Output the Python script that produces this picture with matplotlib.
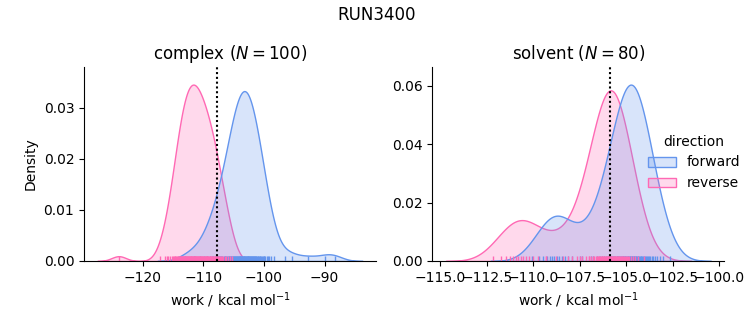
import matplotlib
matplotlib.use("Agg")
import matplotlib.pyplot as plt
import pandas as pd
import seaborn as sns

# work values in kcal/mol, one list per phase and direction
complex_forward = [
    -113.01, -111.53, -110.54, -109.85, -109.40, -108.95, -108.65, -108.37, -108.07, -107.84,
    -107.65, -107.46, -107.27, -107.07, -106.88, -106.68, -106.50, -106.37, -106.23, -106.10,
    -105.96, -105.83, -105.72, -105.61, -105.51, -105.40, -105.30, -105.20, -105.10, -105.00,
    -104.92, -104.84, -104.75, -104.67, -104.59, -104.50, -104.41, -104.34, -104.26, -104.19,
    -104.11, -104.04, -103.96, -103.89, -103.81, -103.73, -103.67, -103.59, -103.51, -103.45,
    -103.37, -103.30, -103.23, -103.15, -103.08, -103.01, -102.94, -102.86, -102.79, -102.71,
    -102.64, -102.58, -102.49, -102.41, -102.34, -102.26, -102.18, -102.11, -102.03, -101.95,
    -101.88, -101.79, -101.70, -101.61, -101.52, -101.43, -101.34, -101.26, -101.17, -101.06,
    -100.95, -100.84, -100.73, -100.62, -100.50, -100.38, -100.22, -100.07, -99.92, -99.76,
    -99.57, -99.33, -99.10, -98.81, -98.42, -96.50, -95.40, -92.70, -89.90, -88.30,
]
complex_reverse = [
    -124.00,
    -117.15, -116.36, -116.07, -115.80, -115.54, -115.27, -115.03, -114.91, -114.78, -114.66,
    -114.54, -114.41, -114.29, -114.16, -114.04, -113.95, -113.86, -113.77, -113.68, -113.59,
    -113.51, -113.41, -113.33, -113.25, -113.16, -113.09, -113.00, -112.93, -112.85, -112.77,
    -112.69, -112.61, -112.53, -112.45, -112.37, -112.29, -112.21, -112.14, -112.06, -111.99,
    -111.92, -111.84, -111.77, -111.69, -111.62, -111.54, -111.47, -111.40, -111.32, -111.25,
    -111.17, -111.08, -111.00, -110.92, -110.84, -110.76, -110.68, -110.60, -110.52, -110.44,
    -110.35, -110.27, -110.18, -110.09, -110.01, -109.92, -109.83, -109.75, -109.66, -109.57,
    -109.48, -109.38, -109.29, -109.19, -109.10, -109.00, -108.90, -108.81, -108.70, -108.60,
    -108.49, -108.38, -108.27, -108.16, -108.05, -107.95, -107.83, -107.68, -107.53, -107.37,
    -107.23, -107.09, -106.94, -106.75, -106.52, -106.28, -106.03, -105.64, -105.25,
]
solvent_forward = [
    -106.78, -106.41, -106.22, -106.08, -105.97, -105.87, -105.79, -105.72, -105.65, -105.59,
    -105.53, -105.48, -105.43, -105.38, -105.33, -105.29, -105.25, -105.20, -105.16, -105.12,
    -105.08, -105.05, -105.01, -104.97, -104.93, -104.90, -104.86, -104.83, -104.79, -104.76,
    -104.72, -104.69, -104.65, -104.61, -104.58, -104.54, -104.51, -104.47, -104.43, -104.39,
    -104.36, -104.32, -104.28, -104.24, -104.20, -104.15, -104.11, -104.06, -104.01, -103.96,
    -103.91, -103.85, -103.79, -103.72, -103.65, -103.57, -103.48, -103.36, -103.22, -103.03,
    -102.66,
    -110.10, -109.69, -109.46, -109.29, -109.13, -109.00, -108.87, -108.74, -108.60, -108.47,
    -108.32, -108.14, -107.91, -107.50,
    -107.37, -106.91, -106.60, -106.29, -105.83,
]
solvent_reverse = [
    -112.16, -111.72, -111.47, -111.28, -111.11, -110.96, -110.82, -110.68, -110.54, -110.39,
    -110.22, -110.03, -109.78, -109.34,
    -109.33, -108.77, -108.43, -108.15, -107.90, -107.65, -107.37, -107.03, -106.47,
    -107.49, -107.18, -107.01, -106.89, -106.80, -106.72, -106.65, -106.59, -106.53, -106.48,
    -106.43, -106.38, -106.34, -106.30, -106.26, -106.22, -106.18, -106.14, -106.11, -106.07,
    -106.04, -106.01, -105.97, -105.94, -105.91, -105.88, -105.84, -105.81, -105.78, -105.75,
    -105.72, -105.69, -105.65, -105.62, -105.59, -105.56, -105.52, -105.49, -105.45, -105.42,
    -105.38, -105.34, -105.30, -105.26, -105.22, -105.18, -105.13, -105.08, -105.03, -104.97,
    -104.91, -104.84, -104.76, -104.67, -104.55, -104.39, -104.07,
]

phases = ["complex", "solvent"]
phase_estimates = [-107.75, -105.87]
palette = {"forward": "cornflowerblue", "reverse": "hotpink"}

series = [
    ("complex", "forward", complex_forward),
    ("complex", "reverse", complex_reverse),
    ("solvent", "forward", solvent_forward),
    ("solvent", "reverse", solvent_reverse),
]
rows = []
for phase, direction, values in series:
    rows += [(phase, direction, w) for w in values]
df = pd.DataFrame(rows, columns=["phase", "direction", "work"])

g = sns.displot(
    df, x="work", hue="direction", col="phase", kind="kde",
    fill=True, rug=True, palette=palette,
    facet_kws=dict(sharex=False, sharey=False),
)
fig = g.figure
fig.set_size_inches(7.53, 3.25)
fig.subplots_adjust(left=0.1116, right=0.9619, bottom=0.197, top=0.794, wspace=0.194)

for ax, phase, dg in zip(g.axes.flat, phases, phase_estimates):
    n = ((df["phase"] == phase) & (df["direction"] == "forward")).sum()
    ax.set_title(f"{phase} ($N={n}$)")
    ax.axvline(dg, color="k", ls=(0, (1, 1.3)), lw=1.5)
    ax.set_xlabel("work / kcal mol$^{-1}$")

fig.suptitle("RUN3400")
fig.savefig("out.png", dpi=100)
